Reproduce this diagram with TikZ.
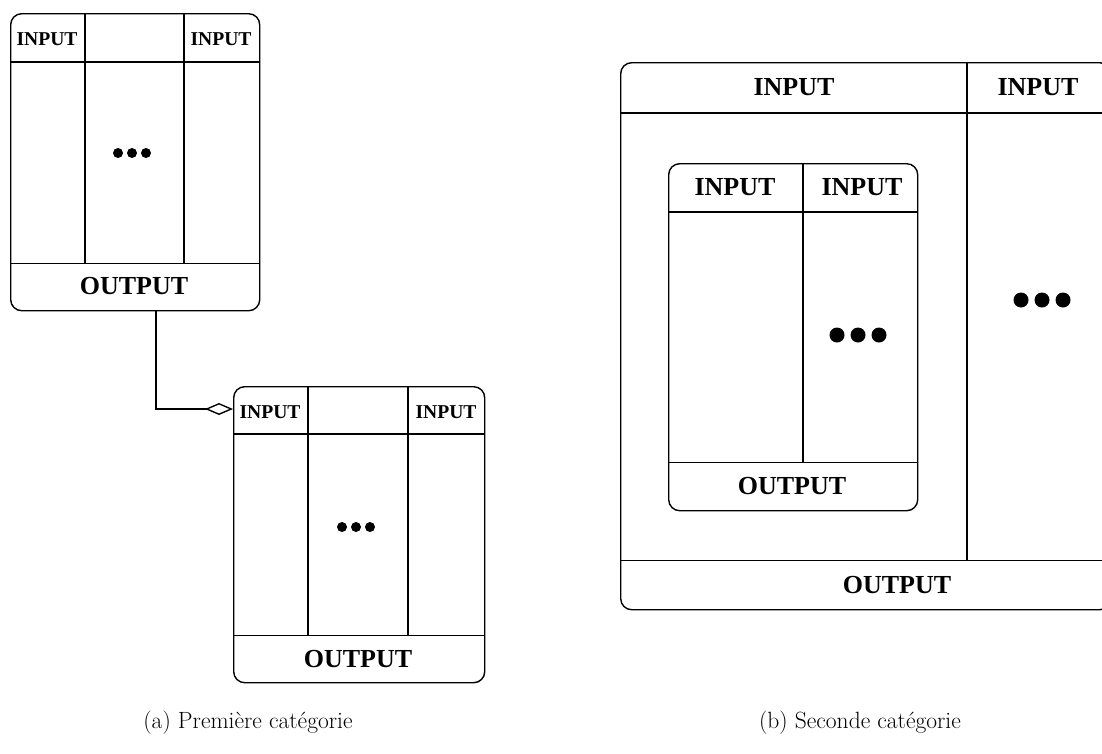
\documentclass[tikz,border=0pt]{standalone}
\usepackage{fontspec}
\newfontfamily\tnr{Liberation Serif}
\usetikzlibrary{arrows.meta,calc}
\begin{document}
\begin{tikzpicture}[x=1pt,y=-1pt,
  box/.style={draw, line width=1.4pt, rounded corners=11pt, inner sep=0pt, anchor=north west},
  rule/.style={line width=1.4pt},
  smalllbl/.style={font=\tnr\bfseries\fontsize{19.6}{22}\selectfont, inner sep=0pt},
  biglbl/.style={font=\tnr\bfseries\fontsize{26}{30}\selectfont, inner sep=0pt},
  caplbl/.style={font=\fontsize{23.5}{28}\selectfont, inner sep=0pt, anchor=base},
  smalldot/.style={fill=black, draw=none},
  conn/.style={line width=1.4pt, -{Diamond[open, length=28pt, width=12pt, line width=1.4pt]}}
]
\clip (0,0) rectangle (1102,753);
\useasboundingbox (0,0) rectangle (1102,753);

% ---------- Box A (top left) ----------
\node[box, minimum width=249pt, minimum height=297pt] (A) at (10,13) {};
\draw[rule] ([yshift=-49pt]A.north west) -- ([yshift=-49pt]A.north east);
\draw[rule] ([yshift=48pt]A.south west) -- ([yshift=48pt]A.south east);
\draw[rule] ([xshift=75pt]A.north west) -- ([xshift=75pt,yshift=48pt]A.south west);
\draw[rule] ([xshift=174pt]A.north west) -- ([xshift=174pt,yshift=48pt]A.south west);
\node[smalllbl] (Ain1) at (47,39) {INPUT};
\node[smalllbl] (Ain2) at (221,39) {INPUT};
\node[biglbl] (Aout) at (134,286) {OUTPUT};
\foreach \i in {-1,0,1} \fill[smalldot] (132+14*\i,153) circle (5pt);

% ---------- Box B (lower left) ----------
\node[box, minimum width=251pt, minimum height=296pt] (B) at (233,386) {};
\draw[rule] ([yshift=-48pt]B.north west) -- ([yshift=-48pt]B.north east);
\draw[rule] ([yshift=48pt]B.south west) -- ([yshift=48pt]B.south east);
\draw[rule] ([xshift=75pt]B.north west) -- ([xshift=75pt,yshift=48pt]B.south west);
\draw[rule] ([xshift=175pt]B.north west) -- ([xshift=175pt,yshift=48pt]B.south west);
\node[smalllbl] (Bin1) at (270,412) {INPUT};
\node[smalllbl] (Bin2) at (446,412) {INPUT};
\node[biglbl] (Bout) at (358,659) {OUTPUT};
\foreach \i in {-1,0,1} \fill[smalldot] (356+14*\i,527) circle (5pt);

% ---------- connector ----------
\coordinate (cs) at ([xshift=146pt]A.south west);
\coordinate (ce) at ([yshift=-23pt]B.north west);
\draw[conn] (cs) |- (ce);

% ---------- Box C (right, outer) ----------
\node[box, minimum width=490pt, minimum height=547pt] (C) at (620,62) {};
\draw[rule] ([yshift=-51pt]C.north west) -- ([yshift=-51pt]C.north east);
\draw[rule] ([yshift=50pt]C.south west) -- ([yshift=50pt]C.south east);
\draw[rule] ([xshift=347pt]C.north west) -- ([xshift=347pt,yshift=50pt]C.south west);
\node[biglbl] (Cin1) at (794,87) {INPUT};
\node[biglbl] (Cin2) at (1038,87) {INPUT};
\node[biglbl] (Cout) at (897,585) {OUTPUT};
\foreach \i in {-1,0,1} \fill[smalldot] (1042+21*\i,300) circle (7.5pt);

% ---------- Box D (inner) ----------
\node[box, minimum width=249pt, minimum height=347pt] (D) at (668,163) {};
\draw[rule] ([yshift=-49pt]D.north west) -- ([yshift=-49pt]D.north east);
\draw[rule] ([yshift=49pt]D.south west) -- ([yshift=49pt]D.south east);
\draw[rule] ([xshift=135pt]D.north west) -- ([xshift=135pt,yshift=49pt]D.south west);
\node[biglbl] (Din1) at (735,187) {INPUT};
\node[biglbl] (Din2) at (862,187) {INPUT};
\node[biglbl] (Dout) at (792,486) {OUTPUT};
\foreach \i in {-1,0,1} \fill[smalldot] (858+21*\i,335) circle (7.5pt);

% ---------- captions ----------
\node[caplbl] (capa) at (248,728) {(a) Première catégorie};
\node[caplbl] (capb) at (860,728) {(b) Seconde catégorie};
\end{tikzpicture}
\end{document}
